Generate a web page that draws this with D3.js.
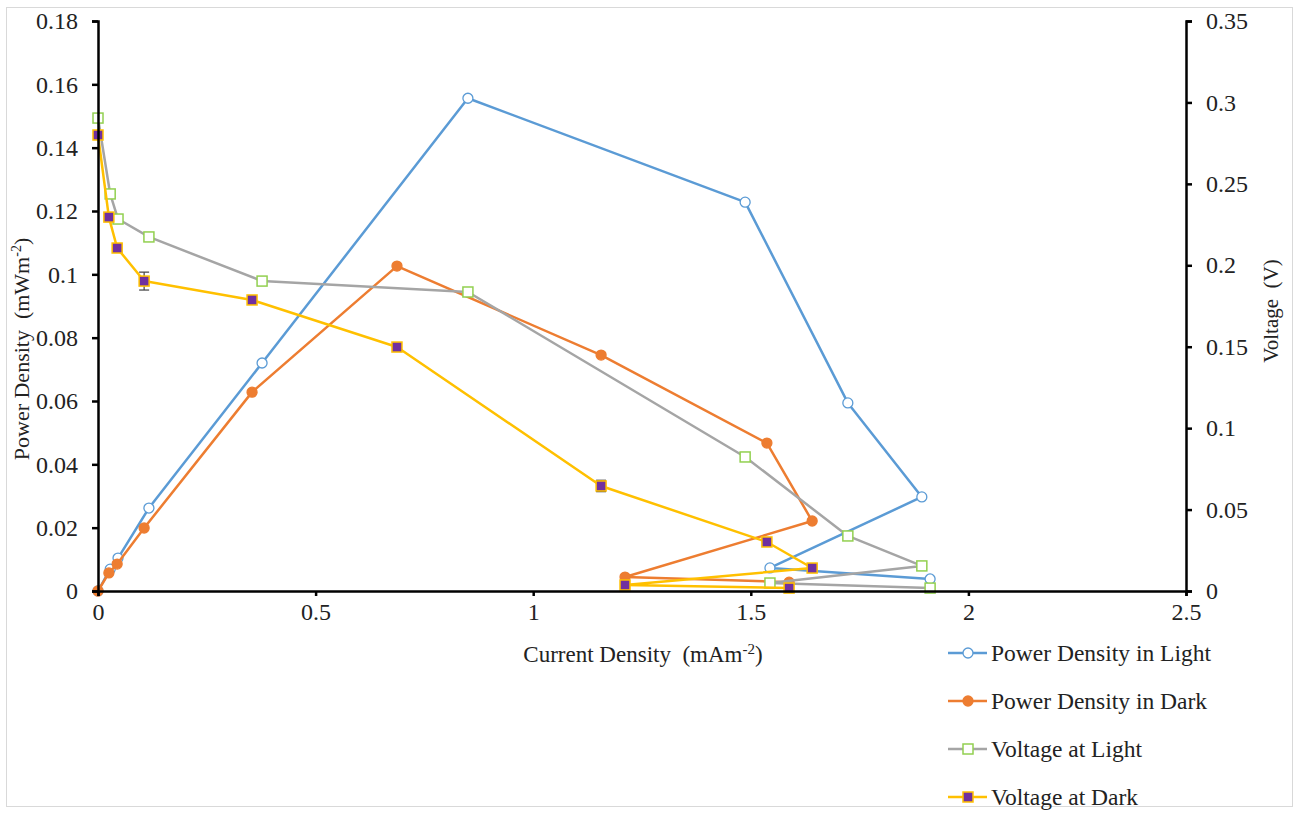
<!DOCTYPE html>
<html>
<head>
<meta charset="utf-8">
<script src="https://cdn.jsdelivr.net/npm/d3@7"></script>
<style>
  body { margin: 0; background: #fff; }
  text { font-family: "Liberation Serif", "Times New Roman", serif; fill: #222; }
</style>
</head>
<body>
<div class="chart"></div>
<script>
// data
var lightX = [0, 0.028, 0.046, 0.117, 0.377, 0.850, 1.487, 1.723, 1.893, 1.544, 1.912];
var lightPower = [0, 0.0069, 0.0104, 0.0262, 0.0720, 0.1556, 0.1228, 0.0594, 0.0297, 0.0073, 0.0038];
var lightVoltage = [0.2904, 0.2438, 0.2284, 0.2174, 0.1903, 0.1836, 0.0823, 0.0338, 0.0154, 0.0049, 0.0018];

var darkX = [0, 0.025, 0.044, 0.106, 0.354, 0.687, 1.156, 1.537, 1.641, 1.211, 1.588];
var darkPower = [0, 0.0057, 0.0085, 0.0199, 0.0628, 0.1026, 0.0745, 0.0467, 0.0221, 0.0044, 0.0028];
var darkVoltage = [0.280, 0.2296, 0.2106, 0.1903, 0.1787, 0.1498, 0.0645, 0.0301, 0.0141, 0.0037, 0.0018];
var darkVoltageErr = [0, 0, 0, 0.0055, 0, 0, 0.0035, 0, 0, 0, 0];

var xTicks = [0, 0.5, 1, 1.5, 2, 2.5];
var powerTicks = [0, 0.02, 0.04, 0.06, 0.08, 0.1, 0.12, 0.14, 0.16, 0.18];
var voltTicks = [0, 0.05, 0.1, 0.15, 0.2, 0.25, 0.3, 0.35];

var seriesNames = ["Power Density in Light", "Power Density in Dark", "Voltage at Light", "Voltage at Dark"];

var svgWidth = 1304;
var svgHeight = 813;
var margin = { top: 21, left: 98 };
var width = 1088;
var height = 570;
var serif = "'Liberation Serif', 'Times New Roman', serif";

var svg = d3.select(".chart")
  .append("svg")
  .attr("width", svgWidth)
  .attr("height", svgHeight);

// outer frame
svg.append("rect")
  .attr("x", 6.5).attr("y", 7.5)
  .attr("width", 1286).attr("height", 799)
  .attr("fill", "none")
  .attr("stroke", "#d9d9d9")
  .attr("stroke-width", 1);

var chartGroup = svg.append("g")
  .attr("transform", `translate(${margin.left}, ${margin.top})`);

var x = d3.scaleLinear().domain([0, 2.5]).range([0, width]);
var yPower = d3.scaleLinear().domain([0, 0.18]).range([height, 0]);
var yVolt = d3.scaleLinear().domain([0, 0.35]).range([height, 0]);

// series definitions
var series = [
  { name: seriesNames[0], xs: lightX, ys: lightPower, y: yPower, line: "#5B9BD5", marker: "circle", fill: "#fff", stroke: "#5B9BD5" },
  { name: seriesNames[1], xs: darkX, ys: darkPower, y: yPower, line: "#ED7D31", marker: "circle", fill: "#ED7D31", stroke: "#ED7D31" },
  { name: seriesNames[2], xs: lightX, ys: lightVoltage, y: yVolt, line: "#A5A5A5", marker: "square", fill: "#fff", stroke: "#92D050" },
  { name: seriesNames[3], xs: darkX, ys: darkVoltage, y: yVolt, line: "#FFC000", marker: "square", fill: "#7030A0", stroke: "#FFC000", err: darkVoltageErr }
];

series.forEach(function (s) {
  var pts = s.xs.map((v, i) => ({ x: v, y: s.ys[i], e: s.err ? s.err[i] : 0 }));
  var line = d3.line().x(d => x(d.x)).y(d => s.y(d.y));

  chartGroup.append("path")
    .datum(pts)
    .attr("d", line)
    .attr("fill", "none")
    .attr("stroke", s.line)
    .attr("stroke-width", 2.5)
    .attr("stroke-linejoin", "round");

  // error bars
  var errs = pts.filter(d => d.e > 0);
  var eg = chartGroup.append("g").attr("stroke", "#404040").attr("stroke-width", 1.2);
  errs.forEach(function (d) {
    var cx = x(d.x), y1 = s.y(d.y + d.e), y2 = s.y(d.y - d.e);
    eg.append("line").attr("x1", cx).attr("x2", cx).attr("y1", y1).attr("y2", y2);
    eg.append("line").attr("x1", cx - 5).attr("x2", cx + 5).attr("y1", y1).attr("y2", y1);
    eg.append("line").attr("x1", cx - 5).attr("x2", cx + 5).attr("y1", y2).attr("y2", y2);
  });

  drawMarkers(chartGroup, pts.map(d => [x(d.x), s.y(d.y)]), s);
});

function drawMarkers(g, coords, s) {
  if (s.marker === "circle") {
    g.selectAll(null).data(coords).enter().append("circle")
      .attr("cx", d => d[0]).attr("cy", d => d[1])
      .attr("r", 5)
      .attr("fill", s.fill)
      .attr("stroke", s.stroke)
      .attr("stroke-width", 1.3);
  } else {
    g.selectAll(null).data(coords).enter().append("rect")
      .attr("x", d => d[0] - 5).attr("y", d => d[1] - 5)
      .attr("width", 10).attr("height", 10)
      .attr("fill", s.fill)
      .attr("stroke", s.stroke)
      .attr("stroke-width", 1.5);
  }
}

// axes
var bottomAxis = d3.axisBottom(x).tickValues(xTicks).tickSize(5).tickPadding(7).tickFormat(d3.format("~g"));
var leftAxis = d3.axisLeft(yPower).tickValues(powerTicks).tickSize(6).tickPadding(14).tickFormat(d3.format("~g"));
var rightAxis = d3.axisRight(yVolt).tickValues(voltTicks).tickSize(6).tickPadding(14).tickFormat(d3.format("~g"));

var gx = chartGroup.append("g").attr("transform", `translate(0, ${height})`).call(bottomAxis);
var gl = chartGroup.append("g").call(leftAxis);
var gr = chartGroup.append("g").attr("transform", `translate(${width}, 0)`).call(rightAxis);

[gx, gl, gr].forEach(function (g) {
  g.attr("font-family", serif).attr("font-size", 24);
  g.select(".domain").attr("stroke", "#000").attr("stroke-width", 2.5);
  g.selectAll(".tick line").attr("stroke", "#000").attr("stroke-width", 2.5);
  g.selectAll(".tick text")
    .style("font-family", serif)
    .style("font-size", "24px")
    .style("font-weight", "normal")
    .attr("fill", "#222");
});

// axis titles
var xt = svg.append("text")
  .attr("x", 643).attr("y", 662)
  .attr("text-anchor", "middle")
  .style("font-size", "23px")
  .style("white-space", "pre");
xt.append("tspan").text("Current Density  (mAm");
xt.append("tspan").attr("dy", -8).style("font-size", "15px").text("-2");
xt.append("tspan").attr("dy", 8).text(")");

var yt = svg.append("text")
  .attr("transform", "translate(29, 349) rotate(-90)")
  .attr("text-anchor", "middle")
  .style("font-size", "22px")
  .style("white-space", "pre");
yt.append("tspan").text("Power Density  (mWm");
yt.append("tspan").attr("dy", -8).style("font-size", "14px").text("-2");
yt.append("tspan").attr("dy", 8).text(")");

svg.append("text")
  .attr("transform", "translate(1278, 311) rotate(-90)")
  .attr("text-anchor", "middle")
  .style("font-size", "21px")
  .style("white-space", "pre")
  .text("Voltage  (V)");

// legend
var legend = svg.append("g").attr("transform", "translate(948, 653)");
series.forEach(function (s, i) {
  var row = legend.append("g").attr("transform", `translate(0, ${i * 48})`);
  row.append("line")
    .attr("x1", 0).attr("x2", 39).attr("y1", 0).attr("y2", 0)
    .attr("stroke", s.line).attr("stroke-width", 2.5);
  drawMarkers(row, [[20, 0]], s);
  row.append("text")
    .attr("x", 43).attr("y", 8)
    .style("font-size", "23.5px")
    .text(s.name);
});
</script>
</body>
</html>
